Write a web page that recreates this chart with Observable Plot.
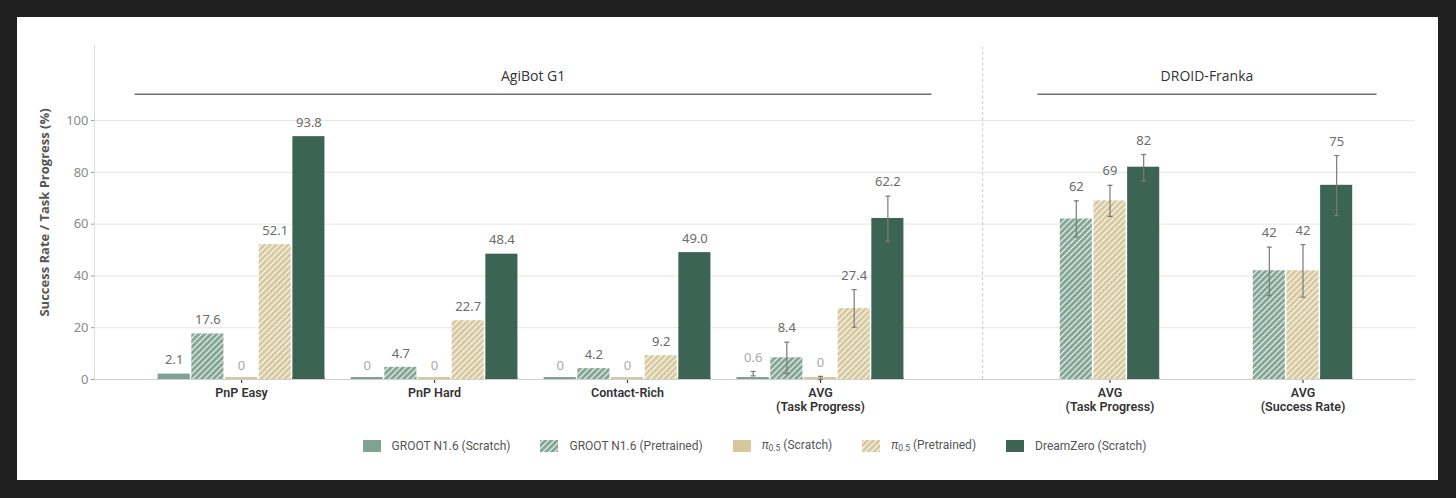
<!DOCTYPE html>
<html>
<head>
<meta charset="utf-8">
<script src="https://cdn.jsdelivr.net/npm/d3@7"></script>
<script src="https://cdn.jsdelivr.net/npm/@observablehq/plot@0.6"></script>
<style>
  html, body { margin: 0; padding: 0; background: #202020; }
  body { width: 1456px; height: 498px; position: relative; overflow: hidden; }
  #card { position: absolute; left: 17px; top: 17px; width: 1421px; height: 463px; background: #fff; }
  #legend { display: flex; justify-content: center; align-items: center; padding: 16px 23px 0 77px;
            font-family: Roboto, "Noto Sans", sans-serif; font-size: 12px; color: #555; }
  .item { display: flex; align-items: center; margin: 0 15px; }
  .item svg { margin-right: 11px; }
  .item sub { font-size: 8.5px; vertical-align: -2px; }
</style>
</head>
<body>
<div id="card"><div id="chart"></div><div id="legend"></div></div>
<script>
// ---------------- data ----------------
const seriesNames = ["GROOT N1.6 (Scratch)", "GROOT N1.6 (Pretrained)", "π0.5 (Scratch)", "π0.5 (Pretrained)", "DreamZero (Scratch)"];
const seriesColors = ["#7fa393", "url(#hatch-groot)", "#d6c79c", "url(#hatch-pi)", "#3c6454"];

const agibotTasks = ["PnP Easy", "PnP Hard", "Contact-Rich", "AVG\n(Task Progress)"];
const agibotGrootScratch = [2.1, 0, 0, 0.6];
const agibotGrootPretrained = [17.6, 4.7, 4.2, 8.4];
const agibotPiScratch = [0, 0, 0, 0];
const agibotPiPretrained = [52.1, 22.7, 9.2, 27.4];
const agibotDreamZero = [93.8, 48.4, 49.0, 62.2];
// error bars (AVG only), per series: [low, high]
const agibotAvgErrLow  = [1.4, 2.3, 0, 20.2, 53.4];
const agibotAvgErrHigh = [3.1, 14.4, 1.2, 34.7, 70.8];

const droidTasks = ["AVG\n(Task Progress)", "AVG\n(Success Rate)"];
const droidSeries = ["GROOT N1.6 (Pretrained)", "π0.5 (Pretrained)", "DreamZero (Scratch)"];
const droidGrootPretrained = [62, 42];
const droidPiPretrained = [69, 42];
const droidDreamZero = [82, 75];
const droidErrLow  = [[55, 63, 76.6], [32.4, 31.8, 63.3]];
const droidErrHigh = [[69, 75, 86.9], [51.1, 52.1, 86.5]];

const groupTitles = ["AgiBot G1", "DROID-Franka"];
const yTicks = [0, 20, 40, 60, 80, 100];
const yLabel = "Success Rate / Task Progress (%)";

// ---------------- layout (x in group units) ----------------
const pitch = 0.1745;          // one bar slot
const droidStart = 4.5;        // first DROID group position
const separatorPos = 3.84;
const xDomain = [-0.762, 6.083];
const yDomain = [0, 129];

// ---------------- build rows ----------------
const rows = [];
const agibotVals = [agibotGrootScratch, agibotGrootPretrained, agibotPiScratch, agibotPiPretrained, agibotDreamZero];
agibotTasks.forEach((t, i) => {
  agibotVals.forEach((vals, k) => {
    const c = i + (k - 2) * pitch;
    const isAvg = i === agibotTasks.length - 1;
    rows.push({
      series: seriesNames[k], value: vals[i], cx: c,
      x1: c - pitch / 2, x2: c + pitch / 2,
      lo: isAvg ? agibotAvgErrLow[k] : null, hi: isAvg ? agibotAvgErrHigh[k] : null
    });
  });
});
const droidVals = [droidGrootPretrained, droidPiPretrained, droidDreamZero];
droidTasks.forEach((t, j) => {
  droidVals.forEach((vals, k) => {
    const c = droidStart + j + (k - 1) * pitch;
    rows.push({
      series: droidSeries[k], value: vals[j], cx: c,
      x1: c - pitch / 2, x2: c + pitch / 2,
      lo: droidErrLow[j][k], hi: droidErrHigh[j][k]
    });
  });
});
const errRows = rows.filter(d => d.lo != null);

const tickPositions = [...agibotTasks.map((_, i) => i), ...droidTasks.map((_, j) => droidStart + j)];
const tickLabels = [...agibotTasks, ...droidTasks];
const tickRows = tickPositions.map((p, i) => {
  const [first, second] = tickLabels[i].split("\n");
  return {p, first, second};
});

const groups = [
  {title: groupTitles[0], x1: -0.554, x2: 3.575},
  {title: groupTitles[1], x1: 4.124, x2: 5.881}
];

const capHalf = 0.013;
const tickFont = {fill: "#333", fontWeight: 600, fontSize: 12.5, fontFamily: "Roboto, sans-serif"};

const chart = Plot.plot({
  width: 1421,
  height: 405,
  marginLeft: 77,
  marginRight: 23,
  marginTop: 28,
  marginBottom: 43,
  style: {fontFamily: "'Open Sans', sans-serif", fontSize: "12px", background: "white", overflow: "visible"},
  x: {type: "linear", domain: xDomain, axis: null},
  y: {domain: yDomain},
  color: {domain: seriesNames, range: seriesColors},
  marks: [
    Plot.gridY(yTicks.filter(d => d > 0), {stroke: "#e6e6e6", strokeOpacity: 1}),
    Plot.ruleX([xDomain[0]], {y1: 0, y2: yDomain[1], stroke: "#dcdcdc"}),
    Plot.ruleX([separatorPos], {y1: 0, y2: yDomain[1] - 0.8, stroke: "#c8c8c8", strokeDasharray: "3,2.5"}),
    Plot.rect(rows, {x1: "x1", x2: "x2", y1: 0, y2: "value", fill: "series", insetLeft: 0.8, insetRight: 0.8}),
    Plot.rect(rows, {x1: "x1", x2: "x2", y1: 0, y2: 0, fill: "series", insetLeft: 0.8, insetRight: 0.8, insetTop: -2}),
    Plot.ruleY([0], {stroke: "#cfcfcf", strokeWidth: 1.2}),
    Plot.ruleX(errRows, {x: "cx", y1: "lo", y2: "hi", stroke: "#7a7a7a", strokeWidth: 1.2}),
    Plot.link(errRows, {x1: d => d.cx - capHalf, x2: d => d.cx + capHalf, y1: "hi", y2: "hi", stroke: "#7a7a7a", strokeWidth: 1.2}),
    Plot.link(errRows, {x1: d => d.cx - capHalf, x2: d => d.cx + capHalf, y1: "lo", y2: "lo", stroke: "#7a7a7a", strokeWidth: 1.2}),
    Plot.text(rows, {
      x: "cx", y: d => d.hi != null ? Math.max(d.hi, d.value) : d.value,
      text: d => String(d.value === 49 ? "49.0" : d.value), dy: -14,
      fill: d => d.value < 1 ? "#a8a8a8" : "#6b6b6b",
      fontFamily: "'Noto Sans', sans-serif", fontSize: 13
    }),
    Plot.axisY({ticks: yTicks, tickSize: 3, tickPadding: 3, stroke: "#999", label: null,
                fill: "#8a8a8a", fontSize: 13, fontFamily: "'Noto Sans', sans-serif"}),
    Plot.text([yLabel], {frameAnchor: "left", dx: -50, rotate: -90, textAnchor: "middle", fontWeight: 700, fontSize: 13,
                fill: "#555", fontFamily: "'Open Sans', sans-serif"}),
    Plot.ruleX(tickPositions, {x: d => d, y1: 0, y2: 0, insetTop: 1, insetBottom: -4, stroke: "#444", strokeWidth: 1.2}),
    Plot.text(tickRows, {x: "p", y: 0, text: "first", dy: 13, ...tickFont}),
    Plot.text(tickRows.filter(d => d.second), {x: "p", y: 0, text: "second", dy: 27.8, ...tickFont}),
    Plot.link(groups, {x1: "x1", x2: "x2", y1: 110.2, y2: 110.2, stroke: "#6e6e6e", strokeWidth: 1.6}),
    Plot.text(groups, {x: d => (d.x1 + d.x2) / 2, y: 117, text: "title", fontSize: 14, fill: "#333",
                fontFamily: "'Open Sans', sans-serif"})
  ]
});

chart.insertAdjacentHTML("afterbegin", `
<defs>
  <pattern id="hatch-groot" patternUnits="userSpaceOnUse" width="4.2" height="4.2" patternTransform="rotate(45)">
    <rect width="4.2" height="4.2" fill="#7fa393"></rect>
    <line x1="2.1" y1="0" x2="2.1" y2="4.2" stroke="#ffffff" stroke-width="1.3" stroke-opacity="0.85"></line>
  </pattern>
  <pattern id="hatch-pi" patternUnits="userSpaceOnUse" width="4.2" height="4.2" patternTransform="rotate(45)">
    <rect width="4.2" height="4.2" fill="#d6c79c"></rect>
    <line x1="2.1" y1="0" x2="2.1" y2="4.2" stroke="#ffffff" stroke-width="1.3" stroke-opacity="0.85"></line>
  </pattern>
</defs>`);
document.getElementById("chart").appendChild(chart);

// ---------------- legend ----------------
const legend = document.getElementById("legend");
seriesNames.forEach((name, k) => {
  const item = document.createElement("div");
  item.className = "item";
  const sw = `<svg width="18" height="12"><rect width="18" height="12" fill="${seriesColors[k]}"></rect></svg>`;
  let label = name;
  if (name.startsWith("π0.5")) label = `<i>π</i><sub>0.5</sub>` + name.slice(4);
  item.innerHTML = sw + `<span>${label}</span>`;
  legend.appendChild(item);
});
</script>
</body>
</html>
